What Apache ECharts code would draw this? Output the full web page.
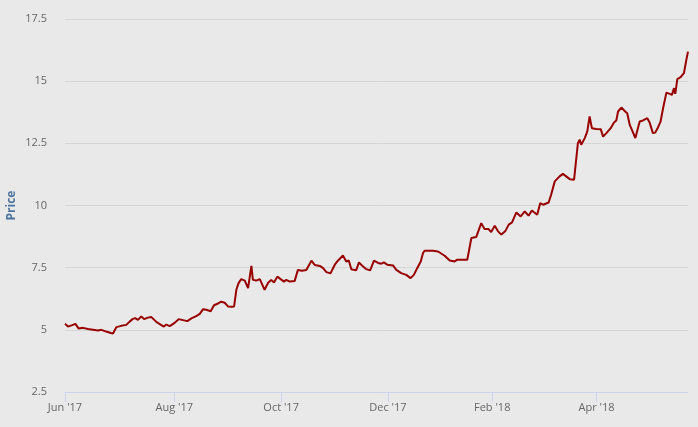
<!DOCTYPE html>
<html>
<head>
<meta charset="utf-8">
<script src="https://cdn.jsdelivr.net/npm/echarts@6/dist/echarts.min.js"></script>
<style>
  html, body { margin: 0; padding: 0; background: #e9e9e9; }
  #chart { width: 698px; height: 427px; }
</style>
</head>
<body>
<div id="chart"></div>
<script>
// Trading-day index (ordinal x) and price values
const dayIndex = [0, 1.2, 2.8, 4.1, 5.4, 7.1, 9.0, 11.0, 13.0, 14.3, 16.2, 18.0, 18.9, 20.2, 22.1, 24.1, 25.4, 26.7, 27.6, 28.7,
  30.0, 31.1, 32.6, 33.9, 35.9, 37.9, 38.9, 39.8, 41.2, 43.1, 44.7, 46.4, 48.1, 49.7, 51.6, 53.0, 54.3, 55.6, 57.3, 58.6,
  60.2, 61.5, 62.8, 64.1, 65.4, 66.5, 67.4, 68.3, 69.3, 70.7, 72.0, 73.3, 73.9, 75.2, 76.6, 78.5, 79.8, 81.1, 82.2, 83.5,
  84.8, 86.1, 87.0, 88.4, 90.3, 91.6, 93.2, 94.9, 96.9, 98.2, 100.2, 101.5, 102.8, 104.4, 106.1, 107.4, 109.3, 110.6, 111.6, 112.6,
  114.5, 115.6, 116.8, 118.5, 119.1, 120.0, 121.5, 123.1, 124.4, 125.4, 126.7, 129.0, 130.3, 132.2, 134.2, 135.9, 137.2, 138.5, 139.9, 140.8,
  141.4, 144.7, 146.7, 149.3, 151.3, 153.2, 154.3, 155.8, 158.2, 159.8, 161.7, 163.7, 165.0, 166.6, 167.6, 169.0, 170.3, 171.6, 173.1, 174.5,
  175.8, 177.5, 179.2, 180.8, 182.3, 183.6, 185.7, 186.9, 188.0, 190.2, 191.2, 192.6, 194.5, 195.8, 197.1, 198.5, 200.2, 201.7, 202.4, 203.0,
  204.4, 205.4, 206.3, 207.2, 208.9, 210.7, 211.6, 212.9, 214.6, 215.9, 216.8, 217.5, 218.8, 219.4, 220.3, 221.1, 222.1, 223.4, 224.3, 225.3,
  226.0, 227.3, 229.0, 229.9, 231.2, 232.1, 233.2, 234.2, 235.2, 236.5, 237.8, 238.7, 239.5, 240.0, 240.8, 242.1, 243.4, 244.3, 245];
const price = [5.24, 5.13, 5.19, 5.24, 5.05, 5.08, 5.03, 5.00, 4.97, 5.00, 4.93, 4.87, 4.85, 5.11, 5.16, 5.20, 5.33, 5.44, 5.47, 5.40,
  5.54, 5.43, 5.49, 5.52, 5.32, 5.19, 5.13, 5.21, 5.15, 5.28, 5.43, 5.39, 5.35, 5.46, 5.55, 5.64, 5.83, 5.81, 5.75, 5.99,
  6.06, 6.13, 6.09, 5.94, 5.93, 5.94, 6.62, 6.89, 7.04, 6.98, 6.68, 7.57, 7.01, 6.98, 7.04, 6.61, 6.88, 7.01, 6.90, 7.14,
  7.04, 6.94, 7.01, 6.94, 6.96, 7.41, 7.38, 7.41, 7.78, 7.61, 7.57, 7.48, 7.32, 7.27, 7.62, 7.79, 7.99, 7.75, 7.79, 7.44,
  7.39, 7.71, 7.59, 7.44, 7.48, 7.39, 7.78, 7.69, 7.66, 7.71, 7.62, 7.59, 7.41, 7.28, 7.21, 7.08, 7.21, 7.48, 7.75, 8.09,
  8.18, 8.18, 8.15, 7.98, 7.79, 7.75, 7.82, 7.82, 7.82, 8.69, 8.73, 9.29, 9.05, 9.05, 8.93, 9.19, 8.96, 8.83, 8.96, 9.23,
  9.32, 9.72, 9.56, 9.76, 9.59, 9.80, 9.63, 10.10, 10.03, 10.12, 10.44, 10.97, 11.17, 11.27, 11.17, 11.06, 11.04, 12.51, 12.65, 12.44,
  12.71, 12.98, 13.58, 13.11, 13.08, 13.07, 12.77, 12.91, 13.11, 13.34, 13.42, 13.78, 13.94, 13.98, 13.78, 13.71, 13.24, 12.93, 12.71, 13.11,
  13.38, 13.42, 13.51, 13.34, 12.91, 12.93, 13.14, 13.37, 13.91, 14.54, 14.49, 14.45, 14.72, 14.49, 15.08, 15.16, 15.32, 15.83, 16.19];

const tickIdx = [0, 43, 85, 127, 168, 209];
const tickLabels = ["Jun '17", "Aug '17", "Oct '17", "Dec '17", "Feb '18", "Apr '18"];

const seriesData = dayIndex.map((d, i) => [d, price[i]]);

const chart = echarts.init(document.getElementById('chart'), null, { renderer: 'canvas' });
const font = '"Open Sans", "DejaVu Sans", sans-serif';
chart.setOption({
  backgroundColor: '#e9e9e9',
  animation: false,
  grid: { left: 65, right: 10, top: 19, bottom: 35, containLabel: false, outerBoundsMode: 'none' },
  xAxis: {
    type: 'value',
    min: 0,
    max: 245,
    axisLine: { show: true, lineStyle: { color: '#ccd6eb', width: 1 } },
    axisTick: { show: true, length: 10, lineStyle: { color: '#ccd6eb' }, customValues: tickIdx },
    axisLabel: {
      show: true,
      customValues: tickIdx,
      margin: 10,
      color: '#666666',
      fontSize: 11,
      fontFamily: font,
      formatter: function (v) {
        const k = tickIdx.indexOf(v);
        return k >= 0 ? tickLabels[k] : '';
      }
    },
    splitLine: { show: false }
  },
  yAxis: {
    type: 'value',
    min: 2.5,
    max: 17.5,
    interval: 2.5,
    name: 'Price',
    nameLocation: 'middle',
    nameGap: 47,
    nameRotate: 90,
    nameMoveOverlap: false,
    nameTextStyle: { color: '#4d759e', fontSize: 12, fontWeight: 'bold', fontFamily: font },
    axisLine: { show: false },
    axisTick: { show: false },
    axisLabel: { color: '#666666', fontSize: 11, fontFamily: font, margin: 18 },
    splitLine: { show: true, lineStyle: { color: '#d6d6d6', width: 1 } }
  },
  series: [{
    type: 'line',
    data: seriesData,
    showSymbol: false,
    symbol: 'none',
    lineStyle: { color: '#990000', width: 2 },
    itemStyle: { color: '#990000' }
  }]
});
</script>
</body>
</html>
